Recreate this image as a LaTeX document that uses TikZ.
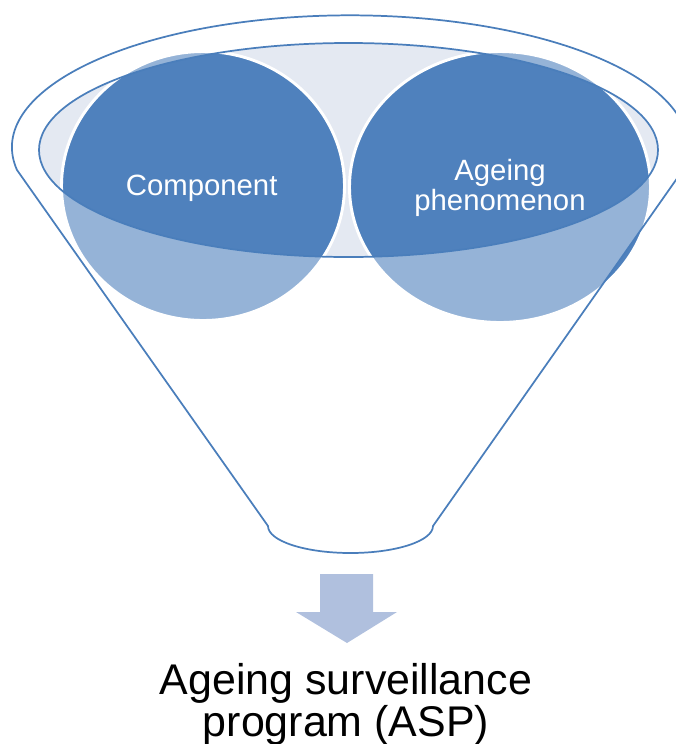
\documentclass[tikz,border=0pt]{standalone}
\usepackage{fontspec}
\setmainfont{Liberation Sans}
\usetikzlibrary{shapes.geometric}

\definecolor{bubbleblue}{RGB}{79,129,189}
\definecolor{lineblue}{RGB}{74,126,187}
\definecolor{holefill}{RGB}{228,233,242}
\definecolor{arrowfill}{RGB}{176,192,222}

\begin{document}
\begin{tikzpicture}[x=0.75pt,y=0.75pt,
  bubble/.style={ellipse, fill=bubbleblue, draw=white, line width=2.2pt,
    inner sep=0pt, text=white, align=center,
    font=\fontsize{22}{22.5}\selectfont},
  funnelline/.style={draw=lineblue, line width=1.3pt},
  veil/.style={fill=white, fill opacity=0.4, even odd rule},
]
\useasboundingbox (0,0) rectangle (676,-744);
\clip (0,0) rectangle (676,-744);

% corners of the funnel body
\coordinate (rimL) at (17,-170);
\coordinate (neckR) at (433,-526);
\coordinate (mouth) at (348.5,-150);

% opening of the funnel
\path[fill=holefill] (mouth) ellipse [x radius=309.5, y radius=107];

% the two items poured into the funnel
\node[bubble, minimum width=212.25pt, minimum height=201.75pt] (comp) at (203,-186) {};
\node[bubble, minimum width=225.75pt, minimum height=203.25pt] (phen) at (500,-187) {};

% item labels
\node[text=white, inner sep=0pt, font=\fontsize{22}{22.5}\selectfont] (compl)
  at ([xshift=-1, yshift=-1.5]comp.center) {Component};
\node[text=white, inner sep=0pt, align=center, font=\fontsize{22}{22.5}\selectfont] (phenl)
  at ([yshift=-0.5]phen.center) {Ageing\\phenomenon};

% translucent funnel body, leaving the opening clear
\path[veil] (rimL) arc[start angle=189.9, end angle=-9.9, x radius=338, y radius=132]
  -- (neckR) arc[start angle=0, end angle=-180, x radius=82.5, y radius=27] -- cycle
  (mouth) ellipse [x radius=309.5, y radius=107];

% funnel outline
\path[funnelline] (rimL) arc[start angle=189.9, end angle=-9.9, x radius=338, y radius=132]
  -- (neckR) arc[start angle=0, end angle=-180, x radius=82.5, y radius=27] -- cycle;
\path[funnelline] (mouth) ellipse [x radius=309.5, y radius=107];

% downward arrow
\fill[arrowfill] (320,-574) -- (373,-574) -- (373,-612) -- (397,-612)
  -- (347,-643) -- (296,-612) -- (320,-612) -- cycle;

% result
\node[font=\fontsize{32.2}{30}\selectfont, align=center, inner sep=0pt] (asp)
  at (346,-704.5) {Ageing surveillance\\program (ASP)};
\end{tikzpicture}
\end{document}
